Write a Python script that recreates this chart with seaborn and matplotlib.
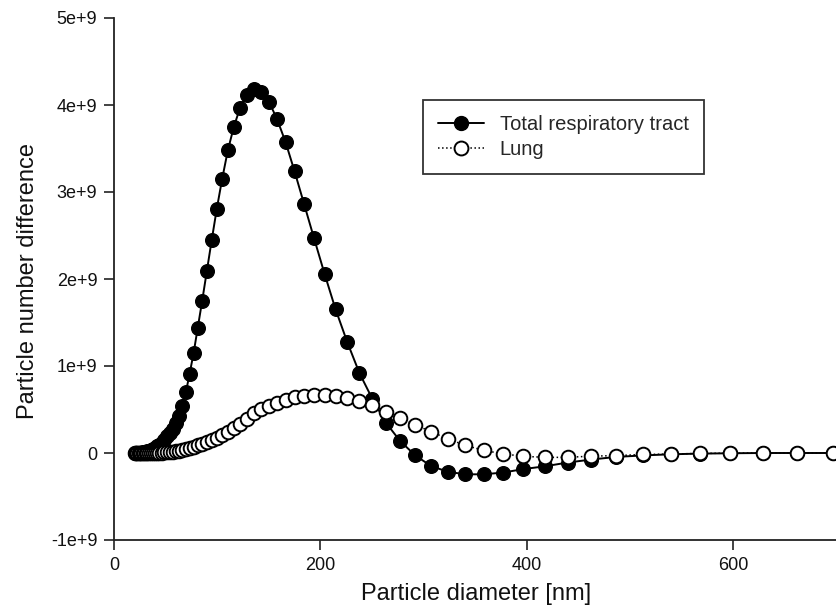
import matplotlib
matplotlib.use("Agg")
import matplotlib.pyplot as plt
import seaborn as sns
import pandas as pd
from matplotlib.ticker import FixedLocator, FixedFormatter

# Particle diameters [nm]
diameter = [20.4, 21.5, 22.6, 23.8, 25.0, 26.4, 27.7, 29.2, 30.7, 32.3,
            34.0, 35.8, 37.7, 39.7, 41.8, 44.0, 46.3, 48.7, 51.3, 53.9,
            56.8, 59.8, 62.9, 66.2, 69.7, 73.3, 77.2, 81.2, 85.5, 90.0,
            94.7, 99.7, 104.9, 110.4, 116.2, 122.3, 128.7, 135.5, 142.6, 150.1,
            158.0, 166.3, 175.0, 184.2, 193.9, 204.1, 214.8, 226.1, 237.9, 250.4,
            263.6, 277.4, 292.0, 307.3, 323.4, 340.4, 358.3, 377.1, 396.9, 417.7,
            439.7, 462.8, 487.1, 512.6, 539.6, 567.9, 597.7, 629.1, 662.1, 696.9]

# Particle number difference (units of 1e9)
total_tract = [0.0, 0.0, 0.001, 0.002, 0.003, 0.005, 0.007, 0.010, 0.014, 0.019,
               0.026, 0.034, 0.045, 0.058, 0.075, 0.095, 0.12, 0.15, 0.19, 0.235,
               0.28, 0.34, 0.42, 0.54, 0.70, 0.91, 1.15, 1.44, 1.75, 2.09,
               2.445, 2.81, 3.153, 3.48, 3.75, 3.97, 4.12, 4.18, 4.155, 4.04,
               3.84, 3.575, 3.24, 2.866, 2.47, 2.061, 1.652, 1.276, 0.92, 0.624,
               0.348, 0.138, -0.027, -0.149, -0.215, -0.245, -0.245, -0.225, -0.185, -0.153,
               -0.11, -0.075, -0.045, -0.028, -0.015, -0.007, -0.003, 0.0, 0.0, 0.0]

lung = [0.0, 0.0, 0.0, 0.0, 0.0, 0.0, 0.0, 0.0, 0.0, 0.0,
        0.0, 0.0, 0.001, 0.001, 0.001, 0.002, 0.004, 0.006, 0.009, 0.012,
        0.016, 0.021, 0.028, 0.036, 0.046, 0.058, 0.072, 0.088, 0.106, 0.127,
        0.150, 0.178, 0.21, 0.245, 0.285, 0.335, 0.39, 0.455, 0.505, 0.545,
        0.58, 0.61, 0.638, 0.655, 0.665, 0.667, 0.656, 0.63, 0.595, 0.55,
        0.475, 0.40, 0.325, 0.245, 0.165, 0.088, 0.031, -0.01, -0.038, -0.05,
        -0.05, -0.036, -0.03, -0.017, -0.012, -0.005, -0.002, 0.0, 0.0, 0.0]

series_names = ["Total respiratory tract", "Lung"]
y_ticks = [-1e9, 0, 1e9, 2e9, 3e9, 4e9, 5e9]
y_tick_labels = ["-1e+9", "0", "1e+9", "2e+9", "3e+9", "4e+9", "5e+9"]
x_ticks = [0, 200, 400, 600]
x_tick_labels = ["0", "200", "400", "600"]

sns.set_style("ticks")
plt.rcParams["font.family"] = ["Liberation Sans", "DejaVu Sans"]

df = pd.DataFrame({
    "d": diameter,
    "total": [v * 1e9 for v in total_tract],
    "lung": [v * 1e9 for v in lung],
})

fig = plt.figure(figsize=(8.36, 6.07), dpi=100)
ax = fig.add_axes([114 / 836, 1 - 540 / 607, 1 - 114 / 836, (540 - 18) / 607])

sns.lineplot(data=df, x="d", y="total", ax=ax, color="black", linewidth=1.4,
             marker="o", markersize=9.8, markerfacecolor="black",
             markeredgecolor="black", markeredgewidth=1.0, sort=False,
             label=series_names[0], zorder=3)
sns.lineplot(data=df, x="d", y="lung", ax=ax, color="black", linewidth=1.1,
             linestyle=":", marker="o", markersize=9.8, markerfacecolor="white",
             markeredgecolor="black", markeredgewidth=1.4, sort=False,
             label=series_names[1], zorder=4)

ax.set_xlim(0, 700)
ax.set_ylim(-1e9, 5e9)
ax.xaxis.set_major_locator(FixedLocator(x_ticks))
ax.xaxis.set_major_formatter(FixedFormatter(x_tick_labels))
ax.yaxis.set_major_locator(FixedLocator(y_ticks))
ax.yaxis.set_major_formatter(FixedFormatter(y_tick_labels))

for side in ["top", "right"]:
    ax.spines[side].set_visible(False)
for side in ["left", "bottom"]:
    ax.spines[side].set_linewidth(1.3)
    ax.spines[side].set_color("#222222")
ax.tick_params(axis="both", direction="out", length=7, width=1.2,
               color="#222222", labelsize=13, labelcolor="#111111", pad=5)

ax.set_xlabel("Particle diameter [nm]", fontsize=17, color="#111111")
ax.set_ylabel("Particle number difference", fontsize=17, color="#111111")
ax.xaxis.set_label_coords(0.501, -0.083)
ax.yaxis.set_label_coords(-0.104, 0.497)

leg = ax.legend(loc="upper left", bbox_to_anchor=((423 - 114) / 722, (540 - 100) / 522),
                fontsize=14.5, frameon=True, fancybox=False, handlelength=2.3,
                borderpad=0.75, labelspacing=0.3, handletextpad=0.75,
                borderaxespad=0)
leg.get_frame().set_edgecolor("black")
leg.get_frame().set_linewidth(1.3)
for h in leg.legend_handles:
    h.set_markersize(10)

fig.savefig("out.png", dpi=100)
